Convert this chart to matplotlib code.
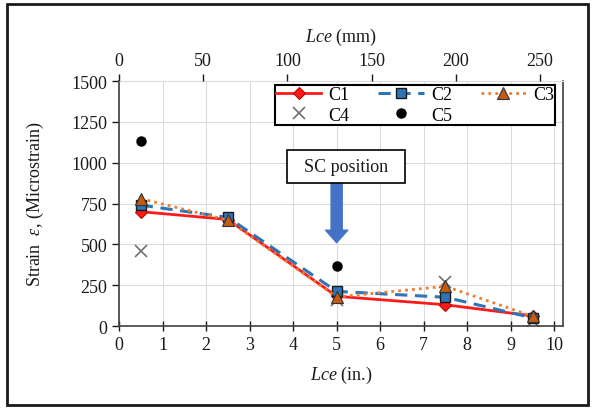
import matplotlib
matplotlib.use("Agg")
import matplotlib.pyplot as plt
from matplotlib.patches import Rectangle

plt.rcParams['font.family'] = ['Liberation Serif', 'DejaVu Serif']
plt.rcParams['mathtext.fontset'] = 'custom'
plt.rcParams['mathtext.rm'] = 'Liberation Serif'
plt.rcParams['mathtext.it'] = 'Liberation Serif:italic'

# Data
x_in = [0.5, 2.5, 5.0, 7.5, 9.5]
c1 = [700, 652, 182, 130, 62]
c2 = [740, 665, 212, 176, 50]
c3 = [780, 648, 178, 243, 60]
x_c4 = [0.5, 5.0, 7.5, 9.5]
c4 = [460, 160, 267, 28]
x_c5 = [0.5, 5.0, 9.5]
c5 = [1135, 369, 50]

x_ticks = list(range(0, 11))
mm_ticks = [0, 50, 100, 150, 200, 250]
y_ticks = [0, 250, 500, 750, 1000, 1250, 1500]

txt = '#1a1a1a'
fig = plt.figure(figsize=(5.92, 4.10), dpi=100)
ax = fig.add_axes([119/592, 1-327/410, (563-119)/592, (327-82)/410])

ax.grid(True, color='#dcdcdc', lw=0.8)
ax.set_axisbelow(True)

ax.plot(x_in, c1, color='#ff1a1a', lw=2, marker='D', ms=6.5, mfc='#ff1a1a', mec='#c00000', mew=0.8, label='C1', zorder=3)
ax.plot(x_in, c2, color='#2e75b6', lw=2.2, ls=(0, (4, 2.5)), marker='s', ms=7, mfc='#2e75b6', mec='#1a1a1a', mew=1.0, label='C2', zorder=4)
ax.plot(x_in, c3, color='#ed7d31', lw=2, ls=(0, (1, 1.5)), marker='^', ms=8, mfc='#c55a11', mec='#333333', mew=0.8, label='C3', zorder=5)
ax.plot(x_c4, c4, ls='none', marker='x', ms=9, mec='#707070', mew=1.2, label='C4', zorder=2)
ax.plot(x_c5, c5, ls='none', marker='o', ms=6.5, mfc='black', mec='black', label='C5', zorder=2)

ax.set_xlim(0, 10.2)
ax.set_ylim(0, 1500)
ax.set_xticks(x_ticks)
ax.set_yticks(y_ticks)
ax.tick_params(axis='both', labelsize=13, colors=txt, length=5, width=1)
ax.tick_params(axis='x', direction='inout', length=7)
ax.tick_params(axis='y', direction='out', length=5)
for s in ['left', 'bottom', 'right']:
    ax.spines[s].set_color('#404040')
    ax.spines[s].set_linewidth(1.2)
ax.spines['top'].set_color('#dcdcdc')
ax.set_xlabel('$\\it{Lce}$ (in.)', fontsize=13, color=txt, labelpad=8)
ax.set_ylabel('Strain  $\\varepsilon$, (Microstrain)', fontsize=13, color=txt, labelpad=18)

ax2 = ax.twiny()
ax2.set_xlim(0, 263.7)
ax2.set_xticks(mm_ticks)
ax2.tick_params(axis='x', labelsize=13, colors=txt, direction='out', length=5, width=1)
for s in ax2.spines.values():
    s.set_visible(False)
ax2.set_xlabel('$\\it{Lce}$ (mm)', fontsize=13, color=txt, labelpad=8)

# Legend (row-major order)
h, l = ax.get_legend_handles_labels()
order = [0, 3, 1, 4, 2]
leg = ax.legend([h[i] for i in order], [l[i] for i in order], ncol=3,
                loc='upper right', bbox_to_anchor=(0.982, 0.984), borderaxespad=0,
                fontsize=13, frameon=True, fancybox=False, edgecolor='black', framealpha=1,
                handlelength=2.5, columnspacing=1.6, handletextpad=0.4,
                borderpad=0.05, labelspacing=0.22)
leg.get_frame().set_linewidth(1.5)

# Annotation
ax.annotate('', xy=(5.0, 510), xytext=(5.0, 880),
            arrowprops=dict(facecolor='#4472c4', edgecolor='#4472c4', width=8, headwidth=16, headlength=9, shrink=0))
ax.text(5.22, 977, '  SC position  ', fontsize=13, color=txt, ha='center', va='center',
        bbox=dict(boxstyle='square,pad=0.45', fc='white', ec='black', lw=1.2), zorder=6)

# Figure border
fig.patches.append(Rectangle((7/592, 1-406/410), (588-7)/592, (406-5)/410,
                             transform=fig.transFigure, fill=False, ec='#1a1a1a', lw=2))

fig.savefig('out.png', dpi=100)
